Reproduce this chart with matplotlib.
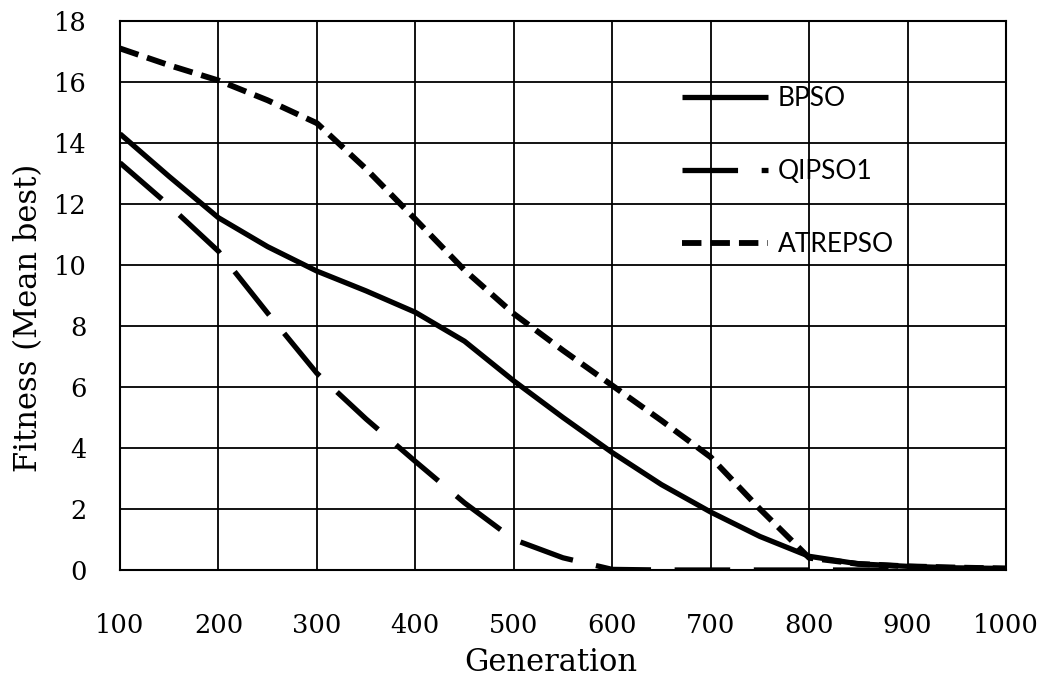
import matplotlib
matplotlib.use("Agg")
import matplotlib.pyplot as plt

generation = [100, 150, 200, 250, 300, 350, 400, 450, 500, 550,
              600, 650, 700, 750, 800, 850, 900, 950, 1000]
bpso = [14.3, 12.9, 11.55, 10.6, 9.8, 9.15, 8.45, 7.5, 6.2, 5.0,
        3.85, 2.8, 1.9, 1.1, 0.45, 0.2, 0.12, 0.07, 0.05]
qipso1 = [13.35, 11.95, 10.45, 8.42, 6.45, 4.95, 3.56, 2.2, 1.0, 0.4,
          0.02, 0.0, 0.0, 0.0, 0.0, 0.0, 0.0, 0.0, 0.0]
atrepso = [17.1, 16.55, 16.05, 15.4, 14.65, 13.15, 11.5, 9.83, 8.4, 7.2,
           6.05, 4.9, 3.7, 2.0, 0.4, 0.2, 0.12, 0.08, 0.05]
labels = ["BPSO", "QIPSO1", "ATREPSO"]
xticks = [100, 200, 300, 400, 500, 600, 700, 800, 900, 1000]
yticks = [0, 2, 4, 6, 8, 10, 12, 14, 16, 18]

plt.rcParams['lines.scale_dashes'] = False

fig = plt.figure(figsize=(10.5, 6.79), dpi=100)
ax = fig.add_axes([120/1050, 109/679, 886/1050, 549/679])

ax.plot(generation, bpso, color='black', lw=3.8, solid_capstyle='butt',
        solid_joinstyle='round', label=labels[0])
ax.plot(generation, qipso1, color='black', lw=3.8, dashes=(40, 17),
        dash_capstyle='butt', label=labels[1])
ax.plot(generation, atrepso, color='black', lw=4.2, dashes=(14, 6.5),
        dash_capstyle='butt', label=labels[2])

ax.set_xlim(100, 1000)
ax.set_ylim(0, 18)
ax.set_xticks(xticks)
ax.set_yticks(yticks)
ax.grid(True, color='black', lw=1.3)
ax.set_axisbelow(True)
for s in ax.spines.values():
    s.set_linewidth(1.5)
    s.set_color('black')

ax.tick_params(length=0, labelsize=18.5)
ax.tick_params(axis='x', pad=31)
ax.tick_params(axis='y', pad=24)
for lab in ax.get_xticklabels() + ax.get_yticklabels():
    lab.set_family('DejaVu Serif')

ax.set_xlabel("Generation", family='DejaVu Serif', fontsize=22)
ax.set_ylabel("Fitness (Mean best)", family='DejaVu Serif', fontsize=22)
ax.xaxis.set_label_coords((551 - 120) / 886, (570 - 647) / 549)
ax.yaxis.set_label_coords((44 - 120) / 886, (570 - 318) / 549)

leg = ax.legend(loc='upper left', bbox_to_anchor=((682 - 120) / 886, (570 - 86) / 549),
                frameon=False, prop={'family': 'Lato', 'size': 19},
                handlelength=3.26, handletextpad=0.38, labelspacing=1.82,
                borderpad=0, borderaxespad=0)

fig.savefig("out.png", dpi=100, facecolor='white')
